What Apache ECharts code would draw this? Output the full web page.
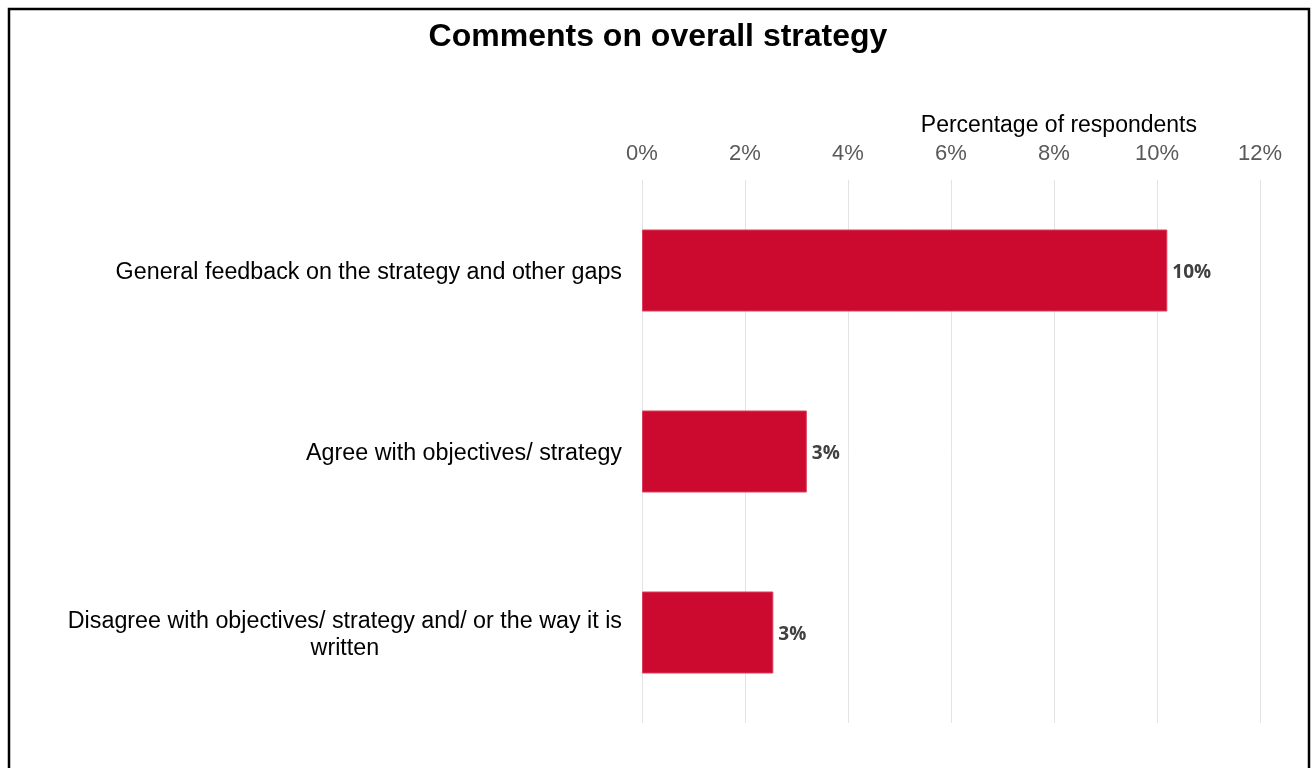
<!DOCTYPE html>
<html>
<head>
<meta charset="utf-8">
<script src="https://cdn.jsdelivr.net/npm/echarts@6/dist/echarts.min.js"></script>
<style>
  html, body { margin: 0; padding: 0; background: #ffffff; }
  #chart { width: 1316px; height: 768px; }
</style>
</head>
<body>
<div id="chart"></div>
<script>
// Comment themes, top to bottom
const categories = [
  'General feedback on the strategy and other gaps',
  'Agree with objectives/ strategy',
  'Disagree with objectives/ strategy and/ or the way it is\nwritten'
];
// Share of respondents (%)
const percentages = [10.2, 3.2, 2.55];
// Value axis range and step (%)
const axisMin = 0;
const axisMax = 12;
const axisStep = 2;

const chart = echarts.init(document.getElementById('chart'), null, { renderer: 'canvas' });

chart.setOption({
  backgroundColor: '#ffffff',
  animation: false,
  title: [
    {
      text: 'Comments on overall strategy',
      left: 'center',
      top: 21,
      padding: 0,
      textStyle: { fontFamily: 'Liberation Sans, Arial, sans-serif', fontWeight: 'bold', fontSize: 32, color: '#000000' }
    },
    {
      text: 'Percentage of respondents',
      right: 119,
      top: 114,
      padding: 0,
      textStyle: { fontFamily: 'Liberation Sans, Arial, sans-serif', fontWeight: 'normal', fontSize: 23, color: '#000000' }
    }
  ],
  graphic: [
    {
      type: 'rect',
      shape: { x: 9, y: 9, width: 1300, height: 820 },
      style: { fill: 'none', stroke: '#000000', lineWidth: 2.5 },
      silent: true
    }
  ],
  grid: { left: 642, right: 56, top: 180, bottom: 45, containLabel: false },
  xAxis: {
    type: 'value',
    position: 'top',
    min: axisMin,
    max: axisMax,
    interval: axisStep,
    axisLine: { show: false },
    axisTick: { show: false },
    splitLine: { show: true, lineStyle: { color: '#e3e3e3', width: 1 } },
    axisLabel: {
      formatter: v => v + '%',
      fontFamily: 'Liberation Sans, Arial, sans-serif',
      fontSize: 22,
      color: '#595959',
      margin: 15
    }
  },
  yAxis: {
    type: 'category',
    data: categories,
    inverse: true,
    axisLine: { show: false },
    axisTick: { show: false },
    axisLabel: {
      margin: 20,
      padding: [5, 0, 0, 0],
      formatter: v => v.split('\n').map(l => '{c|' + l + '}').join('\n'),
      rich: {
        c: {
          align: 'center',
          fontFamily: 'Liberation Sans, Arial, sans-serif',
          fontSize: 23.3,
          lineHeight: 27,
          color: '#000000'
        }
      }
    }
  },
  series: [
    {
      type: 'bar',
      data: percentages,
      barWidth: 82,
      itemStyle: { color: '#CC0A30', borderColor: '#dc3d5c', borderWidth: 1 },
      label: {
        show: true,
        position: 'right',
        distance: 5,
        offset: [0, 2],
        formatter: p => Math.round(p.value) + '%',
        fontFamily: 'Open Sans, sans-serif',
        fontWeight: 'bold',
        fontSize: 19,
        color: '#404040'
      }
    }
  ]
});
</script>
</body>
</html>
